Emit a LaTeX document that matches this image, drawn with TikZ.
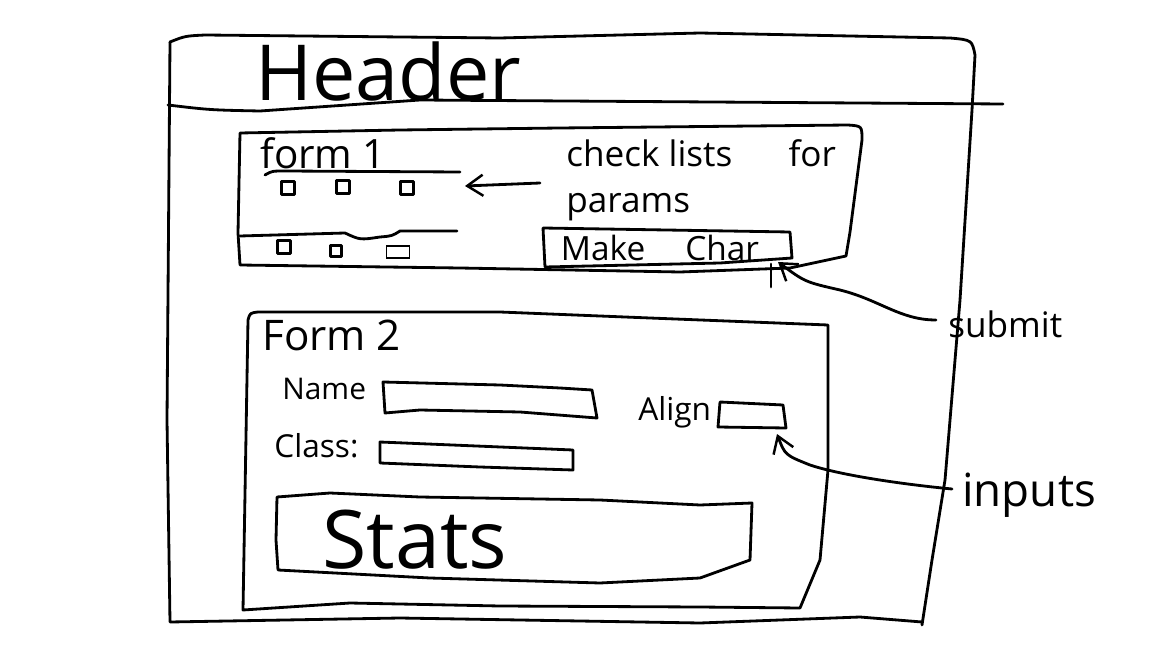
\documentclass[tikz,border=0pt]{standalone}
\usepackage{fontspec}
\setmainfont{Open Sans}
\usetikzlibrary{arrows.meta}
\begin{document}
\begin{tikzpicture}[x=0.02cm,y=-0.02cm,
  ink/.style={line width=1.6pt,line join=round,line cap=round},
  thin ink/.style={line width=0.6pt},
  lbl/.style={inner sep=0pt,anchor=west},
  conn/.style={ink,-{Straight Barb[length=9pt,width=12pt,line width=1.4pt]}},
  cbox/.style={ink,draw,minimum width=0.26cm,minimum height=0.26cm,inner sep=0pt}]
\useasboundingbox (0,0) rectangle (1152,648);
% outer frame
\draw[ink] (170,42) .. controls (185,36) .. (205,35) -- (500,38) -- (700,33) -- (950,38) .. controls (972,40) .. (975,55)
  -- (972,110) -- (960,300) -- (945,480) -- (932,560) -- (922,625);
\draw[ink] (922,622) -- (860,617) -- (700,623) -- (400,618) -- (170,622) -- (167,420) -- (170,42);
% header line
\draw[ink] (168,105) .. controls (210,110) .. (260,111) -- (420,100) -- (1003,104);
\node[lbl,font=\fontsize{44}{48}\selectfont] (header) at (255,72) {Header};
% form 1 box
\draw[ink] (240,133) -- (400,130) -- (560,128) -- (848,125) .. controls (862,126) .. (862,140)
  -- (850,232) -- (846,256) -- (790,268) -- (680,272) -- (460,268) -- (240,265) -- (238,233) -- (240,133);
\node[lbl,font=\fontsize{23}{26}\selectfont] (form1) at (260,153) {form 1};
\draw[ink] (265,175) .. controls (272,171) .. (285,171) -- (460,172);
\node[cbox] (c1) at (288,188) {};
\node[cbox] (c2) at (343,187) {};
\node[cbox] (c3) at (407,188) {};
\draw[ink] (240,236) -- (345,233) .. controls (360,240) .. (380,237) .. controls (392,236) .. (400,231) -- (457,231);
\node[cbox] (c4) at (284,247) {};
\node[cbox,minimum width=0.22cm,minimum height=0.22cm] (c5) at (336,251) {};
\node[thin ink,draw,minimum width=0.46cm,minimum height=0.24cm,inner sep=0pt] (c6) at (398,252) {};
\node[lbl,align=left,font=\fontsize{20}{26}\selectfont] (check) at (566,180) {check lists\hspace{1.6em}for\\params};
\coordinate (arrowstart) at (540,183);
\coordinate (arrowend) at (465,186);
\draw[conn] (arrowstart) -- (arrowend);
% make char button
\draw[ink] (543,228) -- (790,232) -- (792,258) -- (720,263) -- (545,267) -- (543,228);
\node[font=\fontsize{19}{22}\selectfont,inner sep=0pt] (make) at (660,248) {Make\hspace{1.2em}Char};
\coordinate (mcorner) at (778,262);
% submit
\node[lbl,font=\fontsize{20}{24}\selectfont] (submit) at (948,324) {submit};
\coordinate (subend) at (936,320);
\draw[conn] (subend) .. controls (900,320) and (880,300) .. (840,290) .. controls (805,282) .. (mcorner);
\draw[ink] (771,264) -- (771,287);
% form 2 box
\draw[ink] (248,320) .. controls (250,313) .. (258,312) -- (500,312) -- (650,318) -- (828,325) -- (828,470)
  -- (820,560) -- (800,608) -- (700,607) -- (500,606) -- (350,603) -- (243,610) -- (248,320);
\node[lbl,font=\fontsize{24}{28}\selectfont] (form2) at (262,335) {Form 2};
\node[lbl,font=\fontsize{17}{20}\selectfont] (name) at (282,389) {Name};
\draw[ink] (383,382) -- (500,385) -- (560,388) -- (592,390) -- (597,418) -- (520,412) -- (420,410) -- (385,413) -- cycle;
\node[lbl,font=\fontsize{18}{20}\selectfont] (class) at (274,446) {Class:};
\draw[ink] (380,442) -- (573,450) -- (573,470) -- (480,467) -- (380,463) -- cycle;
\node[lbl,font=\fontsize{18}{20}\selectfont] (align) at (638,412) {Align};
\draw[ink] (720,402) -- (783,405) -- (786,428) -- (718,427) -- cycle;
\coordinate (acorner) at (777,434);
\node[lbl,font=\fontsize{26}{30}\selectfont] (inputs) at (962,495) {inputs};
\coordinate (inend) at (952,489);
\draw[conn] (inend) .. controls (900,484) and (840,475) .. (810,465) .. controls (785,455) .. (acorner);
% stats
\draw[ink] (277,497) -- (330,493) -- (420,497) -- (600,500) -- (700,505) -- (752,503) -- (750,560) -- (700,578)
  -- (600,583) -- (430,578) -- (278,570) -- (276,540) -- cycle;
\node[lbl,font=\fontsize{46}{50}\selectfont] (stats) at (322,540) {Stats};
\end{tikzpicture}
\end{document}
